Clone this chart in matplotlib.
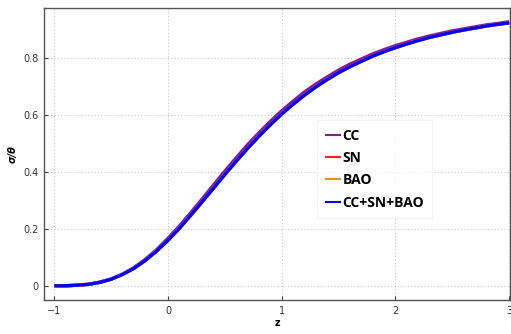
import numpy as np
import matplotlib.pyplot as plt

# redshift grid
z = np.round(np.arange(-1.0, 3.01, 0.1), 2)

cc = [0, .000, .002, .005, .013, .024, .041, .064, .093, .127, .167, .210, .257, .305, .354, .403,
      .450, .496, .538, .578, .615, .649, .681, .709, .734, .758, .779, .797, .815, .830, .844,
      .856, .868, .878, .887, .896, .903, .910, .917, .922, .928]
sn = [0, .000, .002, .005, .012, .023, .040, .061, .089, .122, .160, .202, .248, .295, .343, .391,
      .438, .483, .526, .566, .604, .638, .670, .699, .725, .749, .770, .789, .807, .823, .837,
      .850, .862, .873, .882, .891, .899, .906, .913, .919, .924]
bao = [0, .000, .002, .005, .012, .023, .040, .061, .089, .122, .160, .202, .248, .295, .343, .391,
       .438, .483, .526, .566, .604, .638, .670, .699, .725, .749, .770, .789, .807, .823, .837,
       .850, .862, .873, .882, .891, .899, .906, .913, .919, .924]
joint = [0, .000, .002, .005, .012, .023, .040, .061, .089, .122, .160, .202, .248, .295, .343, .391,
         .438, .483, .526, .566, .604, .638, .670, .699, .725, .749, .770, .789, .807, .823, .837,
         .850, .862, .873, .882, .891, .899, .906, .913, .919, .924]

labels = ['CC', 'SN', 'BAO', 'CC+SN+BAO']
colors = ['#8b1a8b', '#ff2020', '#ff8c1a', '#0000ff']

fig = plt.figure(figsize=(5.11, 3.34), dpi=100)
ax = fig.add_axes([0.0867, 0.1018, 0.912, 0.874])

for y, lab, col in zip([cc, sn, bao, joint], labels, colors):
    ax.plot(z, y, color=col, lw=2.4, label=lab, solid_capstyle='butt')

ax.set_xlim(-1.088, 3.01)
ax.set_ylim(-0.05, 0.976)
ax.set_xticks([-1, 0, 1, 2, 3])
ax.set_xticklabels(['\u22121', '0', '1', '2', '3'])
ax.set_yticks([0, 0.2, 0.4, 0.6, 0.8])
ax.set_yticklabels(['0', '0.2', '0.4', '0.6', '0.8'])
ax.tick_params(direction='in', length=3, width=0.8, labelsize=7, colors='#444444',
               labelcolor='#333333', pad=4)
ax.grid(True, ls=(0, (1, 2)), color='#c8c8c8', lw=0.8)
for s in ax.spines.values():
    s.set_color('#555555')
    s.set_linewidth(1.0)

ax.set_xlabel('z', fontsize=7, fontweight='bold', labelpad=2)
ax.set_ylabel('\u03c3/\u03b8', fontsize=7, fontweight='bold', style='italic', labelpad=4)

leg = ax.legend(loc='upper left', bbox_to_anchor=(0.62, 0.64), bbox_transform=fig.transFigure,
                borderaxespad=0, frameon=True, fancybox=False, handlelength=1.15,
                handletextpad=0.1, labelspacing=0.6, borderpad=0.6,
                prop={'family': 'Open Sans', 'weight': 'bold', 'size': 10})
leg.get_frame().set_edgecolor('#f2f2f2')
leg.get_frame().set_linewidth(0.8)
for line in leg.get_lines():
    line.set_linewidth(1.5)

fig.savefig('out.png', dpi=100)
